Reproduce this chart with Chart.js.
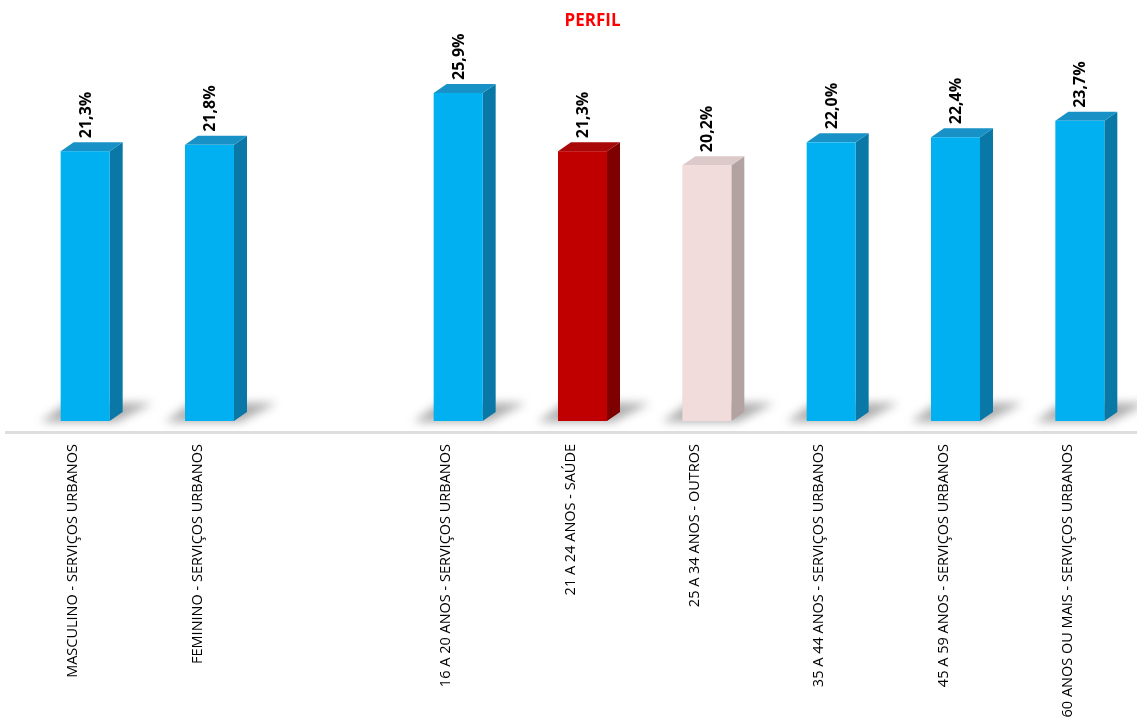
<!DOCTYPE html>
<html>
<head>
<meta charset="utf-8">
<script src="https://cdn.jsdelivr.net/npm/chart.js@4/dist/chart.umd.min.js"></script>
<style>
  html, body { margin: 0; padding: 0; background: #fff; }
  #wrap { width: 1137px; height: 723px; }
</style>
</head>
<body>
<div id="wrap"><canvas id="perfilChart"></canvas></div>
<script>
const categories = [
  'MASCULINO - SERVIÇOS URBANOS',
  'FEMININO - SERVIÇOS URBANOS',
  '',
  '16 A 20 ANOS - SERVIÇOS URBANOS',
  '21 A 24 ANOS - SAÚDE',
  '25 A 34 ANOS - OUTROS',
  '35 A 44 ANOS - SERVIÇOS URBANOS',
  '45 A 59 ANOS - SERVIÇOS URBANOS',
  '60 ANOS OU MAIS - SERVIÇOS URBANOS'
];
const percentages = [21.3, 21.8, null, 25.9, 21.3, 20.2, 22.0, 22.4, 23.7];
const chartTitle = 'PERFIL';

// front / side / top colours of each 3d bar
const blue = ['#00b0f0', '#0a78a6', '#1892c6'];
const red = ['#c00000', '#7e0000', '#a80808'];
const pink = ['#f2dcdb', '#b3a2a2', '#dccaca'];
const palette = [blue, blue, blue, blue, red, pink, blue, blue, blue];

const DEPTH_X = 13, DEPTH_Y = 9, SHIFT = 12;

const fmt = v => v.toFixed(1).replace('.', ',') + '%';

const bars3d = {
  id: 'bars3d',
  beforeDatasetsDraw(chart) {
    const ctx = chart.ctx;
    const area = chart.chartArea;
    const meta = chart.getDatasetMeta(0);

    // floor line
    ctx.save();
    ctx.strokeStyle = '#dedede';
    ctx.lineWidth = 3;
    ctx.beginPath();
    ctx.moveTo(area.left - 6, area.bottom + 11.5);
    ctx.lineTo(chart.width, area.bottom + 11.5);
    ctx.stroke();
    ctx.restore();

    meta.data.forEach((bar, i) => {
      const v = percentages[i];
      if (v == null) return;
      const cols = palette[i];
      const half = bar.width / 2;
      const x0 = bar.x + SHIFT - half, x1 = bar.x + SHIFT + half;
      const yt = bar.y, yb = bar.base;

      // soft floor shadow
      ctx.save();
      ctx.filter = 'blur(5px)';
      ctx.fillStyle = 'rgba(60,60,60,0.42)';
      ctx.beginPath();
      ctx.moveTo(x0 - 20, yb + 1);
      ctx.lineTo(x1 + 6, yb + 1);
      ctx.lineTo(x1 + DEPTH_X + 30, yb - 18);
      ctx.lineTo(x0 + 6, yb - 18);
      ctx.closePath();
      ctx.fill();
      ctx.restore();

      ctx.save();
      // side face
      ctx.fillStyle = cols[1];
      ctx.beginPath();
      ctx.moveTo(x1, yt);
      ctx.lineTo(x1 + DEPTH_X, yt - DEPTH_Y);
      ctx.lineTo(x1 + DEPTH_X, yb - DEPTH_Y);
      ctx.lineTo(x1, yb);
      ctx.closePath();
      ctx.fill();
      // top face
      ctx.fillStyle = cols[2];
      ctx.beginPath();
      ctx.moveTo(x0, yt);
      ctx.lineTo(x1, yt);
      ctx.lineTo(x1 + DEPTH_X, yt - DEPTH_Y);
      ctx.lineTo(x0 + DEPTH_X, yt - DEPTH_Y);
      ctx.closePath();
      ctx.fill();
      // front face
      ctx.fillStyle = cols[0];
      ctx.fillRect(x0, yt, x1 - x0, yb - yt);
      ctx.restore();

      // value label, rotated
      ctx.save();
      ctx.translate(bar.x + SHIFT + 1, yt - DEPTH_Y - 4);
      ctx.rotate(-Math.PI / 2);
      ctx.font = 'bold 16px "Open Sans"';
      ctx.fillStyle = '#000';
      ctx.textAlign = 'left';
      ctx.textBaseline = 'middle';
      ctx.fillText(fmt(v), 0, 0);
      ctx.restore();
    });
    return false;
  },
  afterDraw(chart) {
    const ctx = chart.ctx;
    const area = chart.chartArea;
    ctx.save();
    ctx.font = 'bold 17px "Open Sans"';
    ctx.fillStyle = '#ff0000';
    ctx.textAlign = 'center';
    ctx.textBaseline = 'middle';
    ctx.fillText(chartTitle, (area.left + area.right) / 2 + 22, 21);
    ctx.restore();
  }
};

new Chart(document.getElementById('perfilChart'), {
  type: 'bar',
  data: {
    labels: categories,
    datasets: [{
      data: percentages,
      backgroundColor: palette.map(c => c[0]),
      barThickness: 49
    }]
  },
  options: {
    responsive: true,
    maintainAspectRatio: false,
    animation: false,
    layout: { padding: { top: 41, left: 11, right: 7, bottom: 0 } },
    plugins: {
      legend: { display: false },
      tooltip: { enabled: false },
      title: { display: false }
    },
    scales: {
      y: {
        display: false,
        min: 0,
        max: 30
      },
      x: {
        grid: { display: false },
        border: { display: false },
        afterFit: s => { s.height = 302; },
        ticks: {
          minRotation: 90,
          maxRotation: 90,
          autoSkip: false,
          padding: 15,
          color: '#000',
          font: { family: '"Open Sans"', size: 14.5 }
        }
      }
    }
  },
  plugins: [bars3d]
});
</script>
</body>
</html>
